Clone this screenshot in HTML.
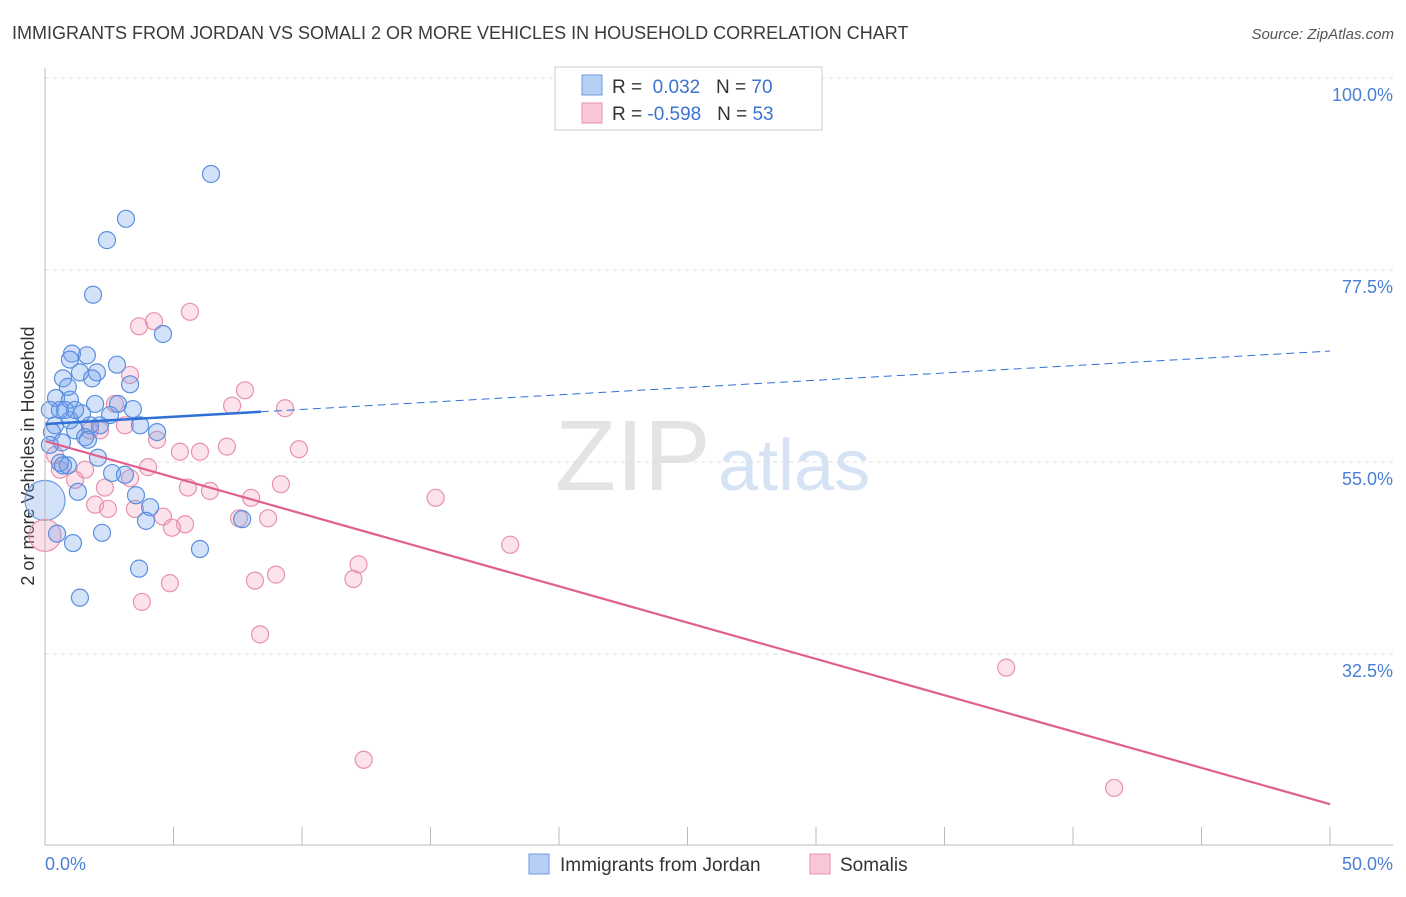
<!DOCTYPE html>
<html><head><meta charset="utf-8"><style>
body{margin:0;background:#fff;font-family:"Liberation Sans",sans-serif}
svg text{font-family:"Liberation Sans",sans-serif}
</style></head><body>
<svg id="c" width="1406" height="892">
<text x="12" y="39" font-size="18" fill="#3a3a3a">IMMIGRANTS FROM JORDAN VS SOMALI 2 OR MORE VEHICLES IN HOUSEHOLD CORRELATION CHART</text>
<text x="1394" y="39" font-size="15" fill="#555" font-style="italic" text-anchor="end">Source: ZipAtlas.com</text>
<text x="555" y="490" font-size="100" fill="#e4e4e4" font-family="Liberation Serif">ZIP</text>
<text x="718" y="490" font-size="72" fill="#d6e3f5">atlas</text>
<text transform="translate(34,456) rotate(-90)" font-size="18" fill="#333" text-anchor="middle">2 or more Vehicles in Household</text>
<g id="grid"></g><g id="pts"></g><g id="trend"></g>
<line x1="45" y1="68" x2="45" y2="845" stroke="#bbb"/>
<line x1="45" y1="845" x2="1393" y2="845" stroke="#bbb"/>
<text x="45" y="870" font-size="18" fill="#4a7fd6">0.0%</text>
<text x="1393" y="870" font-size="18" fill="#4a7fd6" text-anchor="end">50.0%</text>
<g>
<rect x="555" y="67" width="267" height="63" fill="#fff" stroke="#ccc"/>
<rect x="582" y="75" width="20" height="20" fill="#b6d0f5" stroke="#6f9ce0"/>
<rect x="582" y="103" width="20" height="20" fill="#f9c6d5" stroke="#e892ad"/>
<text x="612" y="93" font-size="19" fill="#333">R = <tspan fill="#3b73d0">&#160;0.032</tspan>&#160;&#160;&#160;N = <tspan fill="#3b73d0">70</tspan></text>
<text x="612" y="120" font-size="19" fill="#333">R = <tspan fill="#3b73d0">-0.598</tspan>&#160;&#160;&#160;N = <tspan fill="#3b73d0">53</tspan></text>
</g>
<g><rect x="529" y="854" width="20" height="20" fill="#b6d0f5" stroke="#6f9ce0"/><text x="560" y="871" font-size="19" fill="#333">Immigrants from Jordan</text></g>
<g><rect x="810" y="854" width="20" height="20" fill="#f9c6d5" stroke="#e892ad"/><text x="840" y="871" font-size="19" fill="#333">Somalis</text></g>
</svg>
<script>
const yTicks=[100,77.5,55,32.5];
const yTickLabels=["100.0%","77.5%","55.0%","32.5%"];
const xTicks=[5,10,15,20,25,30,35,40,45,50];
const jordanX=[6.46,3.15,2.41,1.87,4.59,1.05,1.63,0.97,2.8,2.02,1.36,0.7,1.83,3.31,0.89,0.43,0.97,1.95,2.84,3.42,0.19,0.58,1.44,2.53,3.7,0.39,1.75,1.17,0.27,1.56,4.36,0.66,0.19,2.06,0.58,0.89,2.61,3.11,1.28,3.54,4.09,3.93,7.67,0.47,2.22,1.09,6.03,3.66,1.36,1.67,0.97,0.78,1.17,2.14,0.7];
const jordanY=[88.75,83.5,81.0,74.6,70.0,67.7,67.5,67.0,66.4,65.5,65.5,64.8,64.8,64.1,63.8,62.5,62.3,61.8,61.8,61.2,61.1,61.1,60.7,60.5,59.3,59.3,59.3,58.7,58.5,57.9,58.5,57.3,57.0,55.5,54.9,54.6,53.7,53.5,51.5,51.1,49.7,48.1,48.3,46.6,46.7,45.5,44.8,42.5,39.1,57.6,59.9,61.1,61.1,59.3,54.6];
const somaliX=[4.24,3.66,5.64,7.78,7.28,9.34,3.31,2.72,2.14,3.11,4.36,5.25,6.03,7.08,9.88,4.01,3.31,5.56,6.42,2.33,8.02,9.18,15.2,1.95,2.45,3.5,4.59,5.45,4.94,7.55,8.68,18.1,12.2,4.86,12.0,8.99,8.17,3.77,8.37,37.4,12.4,41.6,0.58,1.17,1.56,0.39,1.75];
const somaliY=[71.5,70.9,72.6,63.4,61.6,61.3,65.2,61.8,58.7,59.3,57.6,56.2,56.2,56.8,56.5,54.4,53.1,52.0,51.6,52.0,50.8,52.4,50.8,50.0,49.5,49.5,48.6,47.7,47.3,48.4,48.4,45.3,43.0,40.8,41.3,41.8,41.1,38.6,34.8,30.9,20.1,16.8,54.1,52.9,54.1,55.8,58.7];
const bigJordan=[0,50.5];
const bigSomali=[0,46.4];
const jordanTrend=[59.45,68.0];
const jordanSolidEnd=8.4;
const somaliTrend=[57.45,14.9];
const sx=v=>45+v*25.7;
const sy=v=>78+(100-v)*8.533;
const NS="http://www.w3.org/2000/svg";
function mk(t,a,p){const e=document.createElementNS(NS,t);for(const k in a)e.setAttribute(k,a[k]);p.appendChild(e);return e;}
const grid=document.getElementById('grid'),pts=document.getElementById('pts'),tr=document.getElementById('trend'),svg=document.getElementById('c');
yTicks.forEach((v,i)=>{
 const l=mk('line',{x1:45,x2:1393,y1:sy(v),y2:sy(v),stroke:'#ddd','stroke-dasharray':'4,4'},grid);
 
 
 const t=mk('text',{x:1393,y:sy(v)+23,'font-size':18,fill:'#4a7fd6','text-anchor':'end'},svg);
 t.textContent=yTickLabels[i];
 
 
});
xTicks.forEach(v=>{
 const l=mk('line',{x1:sx(v),x2:sx(v),y1:827,y2:845,stroke:'#bbb'},grid);
 
 
});
function dot(x,y,r,f,s,name){
 const c=mk('circle',{cx:sx(x),cy:sy(y),r:r,fill:f,stroke:s,'stroke-width':1.2},pts);
 
 
}
dot(bigJordan[0],bigJordan[1],20,'rgba(110,160,235,0.3)','#6f9ce0','jordan-point');
dot(bigSomali[0],bigSomali[1],16,'rgba(240,150,180,0.3)','#e892ad','somali-point');
somaliX.forEach((x,i)=>dot(x,somaliY[i],8.5,'rgba(245,160,185,0.3)','#e892ad','somali-point'));
jordanX.forEach((x,i)=>dot(x,jordanY[i],8.5,'rgba(110,160,235,0.3)','#5b8fe0','jordan-point'));
const jy=x=>jordanTrend[0]+(jordanTrend[1]-jordanTrend[0])*x/50;
let l=mk('line',{x1:sx(0),y1:sy(jy(0)),x2:sx(jordanSolidEnd),y2:sy(jy(jordanSolidEnd)),stroke:'#2f6fd6','stroke-width':2.5},tr);


l=mk('line',{x1:sx(jordanSolidEnd),y1:sy(jy(jordanSolidEnd)),x2:sx(50),y2:sy(jy(50)),stroke:'#2f6fd6','stroke-width':1,'stroke-dasharray':'8,5'},tr);


l=mk('line',{x1:sx(0),y1:sy(somaliTrend[0]),x2:sx(50),y2:sy(somaliTrend[1]),stroke:'#e0608d','stroke-width':2.2},tr);


</script>
</body></html>
